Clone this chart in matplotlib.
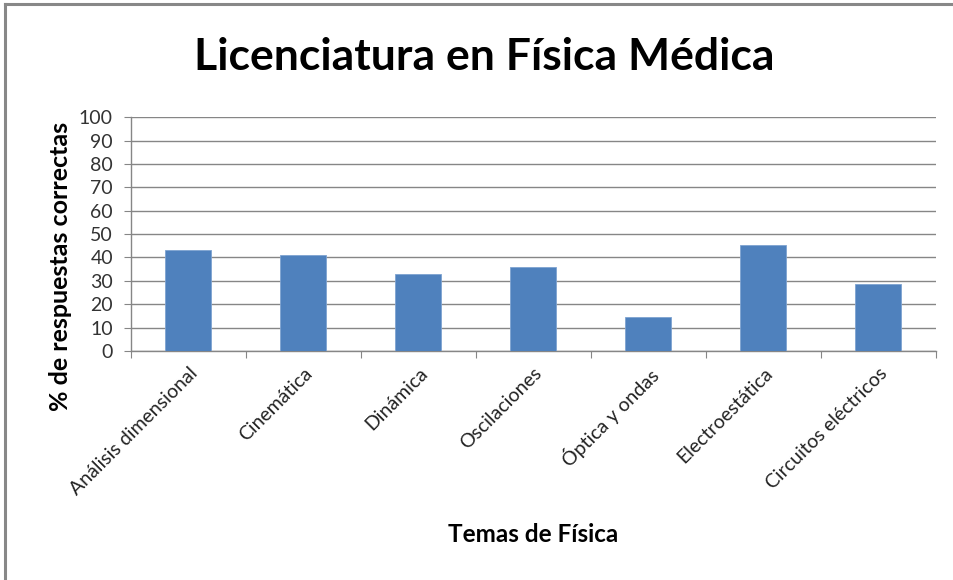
import matplotlib
matplotlib.use("Agg")
import matplotlib.pyplot as plt
from matplotlib.lines import Line2D
import numpy as np

plt.rcParams['font.family'] = ['Lato', 'DejaVu Sans']

temas = ["Análisis dimensional", "Cinemática", "Dinámica", "Oscilaciones",
         "Óptica y ondas", "Electroestática", "Circuitos eléctricos"]
porcentajes = [43.2, 41.0, 32.7, 35.8, 14.4, 45.5, 28.8]
y_ticks = list(range(0, 101, 10))

bar_color = "#4F81BD"
grid_color = "#868686"

fig = plt.figure(figsize=(9.54, 5.8), dpi=100)
ax = fig.add_axes([0.1373, 0.395, 0.8437, 0.403])

x = np.arange(len(temas))
ax.bar(x, porcentajes, width=0.4, color=bar_color, edgecolor="#7EA3D1",
       linewidth=0.6, zorder=3)

ax.set_xlim(-0.5, len(temas) - 0.5)
ax.set_ylim(0, 100)
ax.set_yticks(y_ticks)
ax.set_yticklabels([str(v) for v in y_ticks], fontsize=14, color="#333333")
ax.yaxis.grid(True, color=grid_color, linewidth=1.0, zorder=0)

# category labels sit between boundary ticks
ax.set_xticks(list(x - 0.5) + [len(temas) - 0.5])
ax.set_xticklabels([""] * (len(temas) + 1))
ax.set_xticks(x, minor=True)
ax.set_xticklabels(temas, minor=True, rotation=45, ha="right",
                   rotation_mode="anchor", fontsize=14, color="#222222")
ax.tick_params(axis="x", which="minor", length=0, pad=10)
ax.tick_params(axis="x", which="major", length=5, color=grid_color)
ax.tick_params(axis="y", length=5, color=grid_color, pad=8)

for side in ["top", "right"]:
    ax.spines[side].set_visible(False)
for side in ["left", "bottom"]:
    ax.spines[side].set_color(grid_color)
    ax.spines[side].set_linewidth(1.0)

fig.text(0.508, 0.902, "Licenciatura en Física Médica", ha="center",
         va="center", fontsize=32, fontweight="bold")
fig.text(0.063, 0.54, "% de respuestas correctas", ha="center",
         va="center", rotation=90, fontsize=18, fontweight="bold")
fig.text(0.559, 0.078, "Temas de Física", ha="center", va="center",
         fontsize=17.5, fontweight="bold")

# frame around the chart area (cut at right and bottom)
fig.add_artist(Line2D([0.005, 1.0], [0.993, 0.993], color="#888888",
                      linewidth=2.2))
fig.add_artist(Line2D([0.005, 0.005], [0.0, 0.993], color="#888888",
                      linewidth=2.2))

fig.savefig("out.png", dpi=100)
